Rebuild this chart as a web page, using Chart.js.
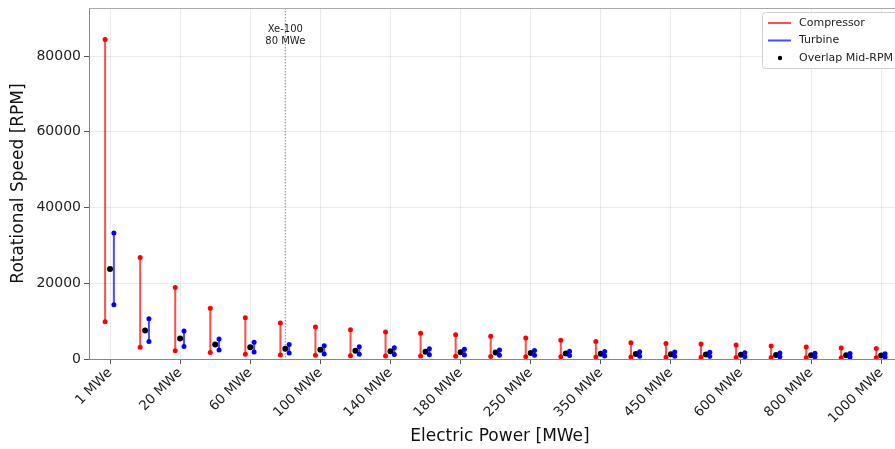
<!DOCTYPE html>
<html>
<head>
<meta charset="utf-8">
<script src="https://cdn.jsdelivr.net/npm/chart.js@4.4.1/dist/chart.umd.min.js"></script>
<style>
  html, body { margin: 0; padding: 0; background: #fff; overflow: hidden; }
  #wrap { width: 895px; height: 449px; overflow: hidden; }
</style>
</head>
<body>
<div id="wrap"><canvas id="myChart" width="915" height="449"></canvas></div>
<script>
// categories (electric power, MWe)
var powerMW = [1, 10, 20, 40, 60, 80, 100, 120, 140, 160, 180, 200, 250, 300, 350, 400, 450, 500, 600, 700, 800, 900, 1000];
var tickLabels = powerMW.map(function(p){ return p + ' MWe'; });
var xTickIdx = [0, 2, 4, 6, 8, 10, 12, 14, 16, 18, 20, 22];
var yTicks = [0, 20000, 40000, 60000, 80000];

// rotational speed ranges [RPM]
var compLow  = [9850, 3100, 2200, 1700, 1250, 1050, 970, 880, 820, 780, 720, 670, 620, 580, 540, 500, 470, 440, 410, 380, 360, 340, 320];
var compHigh = [84400, 26800, 18900, 13400, 10900, 9500, 8450, 7700, 7150, 6800, 6400, 6000, 5550, 4950, 4650, 4300, 4100, 3950, 3700, 3450, 3150, 2900, 2750];
var turbLow  = [14300, 4600, 3300, 2400, 1850, 1600, 1350, 1250, 1170, 1100, 1050, 1000, 960, 900, 800, 750, 700, 660, 610, 580, 550, 520, 500];
var turbHigh = [33300, 10600, 7400, 5300, 4400, 3800, 3500, 3250, 2950, 2700, 2550, 2400, 2250, 2050, 1980, 1900, 1830, 1760, 1670, 1580, 1500, 1420, 1380];
var overlapMid = [23800, 7500, 5400, 3800, 3100, 2700, 2450, 2200, 2050, 1900, 1780, 1700, 1600, 1480, 1380, 1320, 1260, 1200, 1140, 1080, 1020, 970, 940];

var xePower = 80;
var xeText = ['Xe-100', '80 MWe'];

Chart.defaults.font.family = "'DejaVu Sans', sans-serif";

// build vertical range segments, broken by null points
function rangeData(lo, hi, off) {
  var out = [];
  for (var i = 0; i < lo.length; i++) {
    out.push({x: i + off, y: lo[i]});
    out.push({x: i + off, y: hi[i]});
    out.push({x: i + off, y: null});
  }
  return out;
}

//==================== plugins ====================//
var framePlugin = {
  id: 'frame',
  beforeDatasetsDraw: function(chart) {
    var c = chart.ctx, a = chart.chartArea, x = chart.scales.x;
    // Xe-100 marker line
    var px = x.getPixelForValue(powerMW.indexOf(xePower));
    c.save();
    c.strokeStyle = '#888';
    c.lineWidth = 1;
    c.setLineDash([1.5, 1.5]);
    c.beginPath();
    c.moveTo(px, a.top);
    c.lineTo(px, a.bottom);
    c.stroke();
    c.restore();
  },
  afterDraw: function(chart) {
    var c = chart.ctx, a = chart.chartArea, x = chart.scales.x;
    c.save();
    c.strokeStyle = '#aaa';
    c.lineWidth = 1;
    c.beginPath();
    c.moveTo(a.left, a.top + 0.5);
    c.lineTo(a.right, a.top + 0.5);
    c.moveTo(a.right - 0.5, a.top);
    c.lineTo(a.right - 0.5, a.bottom);
    c.stroke();

    // annotation text
    var px = x.getPixelForValue(powerMW.indexOf(xePower));
    c.fillStyle = '#222';
    c.font = "10px 'DejaVu Sans'";
    c.textAlign = 'center';
    c.textBaseline = 'middle';
    c.fillText(xeText[0], px, a.top + 21);
    c.fillText(xeText[1], px, a.top + 33);

    // legend
    var ds = chart.data.datasets;
    var lx = 762, ly = 12;
    c.fillStyle = 'rgba(255,255,255,0.85)';
    c.strokeStyle = '#d0d0d0';
    c.beginPath();
    c.roundRect(lx + 0.5, ly + 0.5, 150, 56, 3);
    c.fill();
    c.stroke();
    c.font = "11px 'DejaVu Sans'";
    c.textAlign = 'left';
    for (var i = 0; i < ds.length; i++) {
      var yy = ly + 11 + i * 17.5;
      if (i < 2) {
        c.strokeStyle = ds[i].borderColor;
        c.lineWidth = 2;
        c.beginPath();
        c.moveTo(lx + 6, yy);
        c.lineTo(lx + 29, yy);
        c.stroke();
      } else {
        c.fillStyle = '#000';
        c.beginPath();
        c.arc(lx + 18, yy, 2.2, 0, Math.PI * 2);
        c.fill();
      }
      c.fillStyle = '#222';
      c.fillText(ds[i].label, lx + 37, yy);
    }
    c.restore();
  }
};

var ctx = document.getElementById('myChart').getContext('2d');
new Chart(ctx, {
  type: 'scatter',
  data: {
    datasets: [{
      label: 'Compressor',
      data: rangeData(compLow, compHigh, -0.14),
      showLine: true,
      spanGaps: false,
      borderColor: 'rgba(255,0,0,0.7)',
      borderWidth: 2,
      pointRadius: 2.5,
      pointBackgroundColor: '#ff0000',
      pointBorderColor: '#ff0000',
      pointBorderWidth: 0
    }, {
      label: 'Turbine',
      data: rangeData(turbLow, turbHigh, 0.11),
      showLine: true,
      spanGaps: false,
      borderColor: 'rgba(0,0,255,0.7)',
      borderWidth: 2,
      pointRadius: 2.5,
      pointBackgroundColor: '#0000ff',
      pointBorderColor: '#0000ff',
      pointBorderWidth: 0
    }, {
      label: 'Overlap Mid-RPM',
      data: overlapMid.map(function(v, i){ return {x: i, y: v}; }),
      showLine: false,
      pointRadius: 3,
      pointBackgroundColor: '#000',
      pointBorderColor: '#000',
      pointBorderWidth: 0
    }]
  },
  options: {
    responsive: false,
    animation: false,
    events: [],
    layout: { padding: { top: 8, right: 3, left: 0, bottom: 0 } },
    plugins: { legend: { display: false }, tooltip: { enabled: false } },
    scales: {
      x: {
        type: 'linear',
        min: -0.6,
        max: 22.85,
        afterBuildTicks: function(s) { s.ticks = xTickIdx.map(function(v){ return {value: v}; }); },
        afterFit: function(s) { s.height = 90; s.paddingLeft = 0; s.paddingRight = 0; },
        grid: { color: 'rgba(0,0,0,0.08)', tickLength: 5, tickColor: '#555' },
        border: { color: '#888', width: 1 },
        ticks: {
          autoSkip: false,
          minRotation: 45,
          maxRotation: 45,
          padding: 1,
          color: '#222',
          font: { size: 13.5 },
          callback: function(v) { return tickLabels[v]; }
        },
        title: { display: true, text: 'Electric Power [MWe]', color: '#111', font: { size: 17 }, padding: { top: 0, bottom: 2 } }
      },
      y: {
        min: 0,
        max: 92700,
        afterBuildTicks: function(s) { s.ticks = yTicks.map(function(v){ return {value: v}; }); },
        afterFit: function(s) { s.width = 89; s.paddingTop = 0; s.paddingBottom = 0; },
        grid: { color: 'rgba(0,0,0,0.08)', tickLength: 5, tickColor: '#555' },
        border: { color: '#888', width: 1 },
        ticks: {
          padding: 3,
          color: '#222',
          font: { size: 14 },
          callback: function(v) { return String(v); }
        },
        title: { display: true, text: 'Rotational Speed [RPM]', color: '#111', font: { size: 17 }, padding: { top: 8, bottom: 0 } }
      }
    }
  },
  plugins: [framePlugin]
});
</script>
</body>
</html>
